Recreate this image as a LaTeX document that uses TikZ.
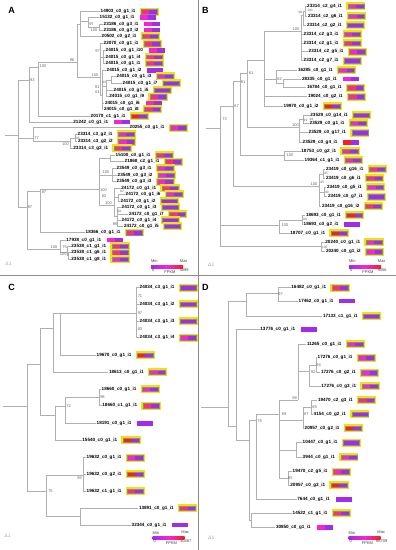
\documentclass[tikz,border=0pt]{standalone}
\usepackage{fontspec}
\setmainfont{Liberation Sans}
\usepackage{tikz}
\usetikzlibrary{positioning}
\definecolor{hpu}{HTML}{A02CEC}
\definecolor{hmg}{HTML}{F524DA}
\definecolor{hpr}{HTML}{FF2A86}
\definecolor{hrd}{HTML}{FF1C1C}
\definecolor{hye}{HTML}{F0E300}
\definecolor{treegray}{HTML}{B0B0B0}
\definecolor{framegray}{HTML}{8C8C8C}
\tikzset{
  branch/.style={
    draw = treegray,
    line width = 0.65pt
  },
  panel/.style={
    draw = framegray,
    line width = 0.8pt
  },
}
\tikzset{
  leaf/.style={
    anchor = west,
    inner sep = 0.5pt,
    font = \fontsize{4.6}{5}\selectfont\bfseries
  },
  boot/.style={
    inner sep = 0pt,
    text = black!60,
    font = \fontsize{4}{4}\selectfont
  },
  bootsm/.style={
    inner sep = 0pt,
    text = black!60,
    font = \fontsize{3.2}{3.2}\selectfont
  },
  tag/.style={
    inner sep = 0pt,
    font = \fontsize{9}{9}\selectfont\bfseries
  },
  scl/.style={
    inner sep = 0pt,
    text = black!35,
    font = \fontsize{5}{5}\selectfont
  },
}
\tikzset{
  hm/.style={
    shape = rectangle,
    inner sep = 0pt,
    minimum width = 16pt,
    minimum height = 4.6pt,
    fill = hpu,
    path picture = {\fill[#1] (path picture bounding box.south west) rectangle (path picture bounding box.north);}
  },
  yb/.style={
    draw = black!45,
    line width = 0.3pt,
    preaction = {draw = hye, line width = 3.2pt}
  },
  nb/.style={},
  legbar/.style={
    inner sep = 0pt,
    minimum width = 32pt,
    minimum height = 3.4pt,
    left color = hpu,
    right color = hrd,
    middle color = hmg
  },
  legtxt/.style={
    inner sep = 0pt,
    text = black!75,
    font = \fontsize{4}{4}\selectfont
  }
}

\begin{document}
\begin{tikzpicture}[x=1pt,y=-1pt]
    \def\gap{5pt}
    \useasboundingbox (0,0) rectangle (396,550);
    \draw[panel] (0,275) -- (396,275);
    \draw[panel] (198,0) -- (198,550);
    \node[tag] (tA) at (11.7,10) {A};
    \node[tag] (tB) at (205.3,10.7) {B};
    \node[tag] (tC) at (11.7,287.7) {C};
    \node[tag] (tD) at (205.3,287.7) {D};
    \foreach \id/\x/\y in {aS/5/135, aR/18/135, a93/29/80, a100/38/67, a96/77/62, aT/80/24, a97/88/21, a100c/99/27,
      a100b/100/77, a97c/103/57, aSub/102/95, aNA/106/86, aNB/111/80, a77/33/138, a100d/70/141, a95/75/138,
      a97b/27/207, a87/40/191, a100f/99/189, aX/110/158, aY/112/175, aZ/114/205, a82/118/197, aW/117/216,
      a100e/60/249, a75/67/252, a100h/68.5/255.5,
      bS/206/128.3, bR/220.7/128.3, b67/233/106, b81/240/81.7, b61/247.3/73.3, bA/264/60, b100/301/31.7,
      b98/303.5/15, b100s/305/11, b62/276.3/79, bQ/283/83, b10r/299/127.7, b99/303/119, b10m/284.7/155,
      b10p/319.7/186.7, b95/323/174, b99p/324/192, b10k/279.7/225, b99k/302/220, b10t/321.3/246.7,
      cS/3/406.7, cR/27/406.7, cC1/40.7/364.3, cC2/53.3/328.3, cC4/60/313.3, c100/136.7/313.3, cC3/55/415,
      c72/65/406, c98/99/397.3, c75/46.7/491, c95/83.3/475, cC5/80/516.7,
      dS/201/407.7, dR/228/407.7, dD1/246.3/301, d97/278/293.3, dD2/236.7/426.7, dD3/249.7/440, d78/256.7/420.7,
      d69/279.7/414.3, d98/298/400, d92/309.7/371.7, d94/316/365, dY/303/420, d89/311.3/407, dX/296.3/450,
      d85/288/478.3, dD5/251.3/520}{
    \coordinate (\id) at (\x,\y);}
    \draw[branch] (aS) -- (aR);
    \draw[branch] (bS) -- (bR);
    \draw[branch] (cS) -- (cR);
    \draw[branch] (dS) -- (dR);
    \foreach \p/\c in {aR/a93, aR/a77, aR/a97b, a93/a100, a100/a96, a96/aT, a96/a100b, aT/a97, a97/a100c,
      a100b/a97c, a100b/aSub, aSub/aNA, aNA/aNB, a77/a100d, a100d/a95, a97b/a87, a97b/a100e, a87/a100f,
      a100f/aX, a100f/aY, a100f/aZ, aZ/a82, aZ/aW, a100e/a75, a75/a100h,
      bR/b67, bR/b10k, bR/b10t, b67/b81, b67/b10p, b81/b61, b81/b10m, b61/bA, b61/b10r, bA/b100, bA/b62,
      b62/bQ, b100/b98, b98/b100s, b10r/b99, b10p/b95, b10p/b99p, b10k/b99k,
      cR/cC1, cR/c75, cC1/cC2, cC1/cC3, cC2/cC4, cC4/c100, cC3/c72, c72/c98, c75/c95, c75/cC5,
      dR/dD1, dR/dD2, dD1/d97, dD2/dD3, dD3/d78, dD3/dD5, d78/d69, d69/d98, d69/dY, d69/dX, d69/d85,
      d98/d92, d92/d94, dY/d89}{
    \draw[branch] (\p) |- (\c);}
    \foreach \id/\up/\x/\y/\gid/\cv/\gv/\iv/\cl/\fr in {
      aL1/aT/100/11.7/14903/0/1/1/hpr/yb, aL2/a97/99/17.3/15132/0/1/1/hmg/nb,
      aL3/a100c/103/24/23186/0/3/1/hmg/nb, aL4/a100c/103/30/23186/0/3/2/hmg/nb,
      aL5/aT/101/36/20502/0/2/1/hpr/yb, aL6/a100b/103/43.7/22070/0/1/1/hpr/yb,
      aL7/a97c/105/50.7/24015/0/1/10/hmg/nb, aL8/a97c/105/57.3/24015/0/1/4/hmg/yb,
      aL9/a97c/105/63.3/24015/0/1/1/hpr/yb, aL10/aSub/106/70.3/24015/0/1/2/hpu/nb,
      aL11/aNB/116/76/24015/0/1/3/hmg/yb, aL12/aNB/122/83.3/24015/0/1/7/hpu/yb,
      aL13/aNA/113/90/24015/0/1/5/hpu/yb, aL14/aNA/108.7/96.7/24015/0/1/9/hpr/yb,
      aL15/aSub/104.3/103.3/24015/0/1/6/hmg/nb, aL16/aSub/103.3/109.3/24015/0/1/8/hpr/yb,
      aL17/a100/90/116/20170/1/1/1/hrd/yb, aL18/a93/72.7/122/21242/0/1/1/hmg/nb,
      aL19/a77/129/127.7/20255/0/1/1/hmg/yb, aL20/a95/77/134/23314/3/2/1/hmg/yb,
      aL21/a95/77.3/141.7/23314/3/2/2/hmg/yb, aL22/a100d/72.7/148.3/23314/3/3/1/hpr/yb,
      aL23/aX/115/155/15100/0/1/1/hpr/yb, aL24/aX/124/161.7/21868/2/1/1/hpr/yb,
      aL25/aY/116/168.3/23549/0/3/1/hmg/yb, aL26/aY/117/175/23549/0/3/2/hmg/yb,
      aL27/aY/116/181.7/23549/0/3/3/hmg/yb, aL28/aZ/120.7/188.3/24172/0/1/1/hpr/yb,
      aL29/a82/125/194.3/24172/0/1/6/hmg/yb, aL30/a82/120/201/24172/0/1/2/hpu/yb,
      aL31/aW/121/207.3/24172/0/1/3/hpu/yb, aL32/aW/128.3/214.3/24172/0/1/7/hpr/yb,
      aL33/aW/121/220/24172/0/1/4/hpu/yb, aL34/aW/123.3/226/24172/0/1/5/hpu/yb,
      aL35/a87/85/232.5/18366/0/1/1/hpr/yb, aL36/a100e/65.7/240/17938/0/1/1/hmg/nb,
      aL37/a75/70.7/246/23538/1/1/1/hpr/yb, aL38/a100h/70.7/252.5/23538/1/6/1/hpr/yb,
      aL39/a100h/70.7/259/23538/1/8/1/hmg/yb,
      bL1/b100s/306.5/6/23314/2/4/1/hmg/yb, bL2/b100s/307.3/16/23314/2/6/1/hmg/yb,
      bL3/b98/306.3/25/23314/2/2/1/hpu/yb, bL4/b100/303/34.3/23314/2/3/1/hmg/yb,
      bL5/b100/303/43.3/23314/2/1/1/hpr/yb, bL6/b100/308/51.7/23314/2/5/1/hmg/yb,
      bL7/b100/303/60.7/23314/2/7/1/hpu/yb, bL8/b62/297.3/70/16285/0/1/1/hmg/yb,
      bL9/bQ/301.3/79/28335/0/1/1/hmg/nb, bL10/bQ/306.3/87.7/16784/0/1/1/hpr/yb,
      bL11/bA/307.3/96.7/19024/0/2/1/hpr/yb, bL12/bA/283/106/19970/0/1/2/hrd/yb,
      bL13/b99/309.7/115/23529/0/14/1/hpu/yb, bL14/b99/309/123.3/23529/0/1/1/hmg/yb,
      bL15/b10r/308/132.7/23529/0/17/1/hpu/yb, bL16/b10r/302/142.3/23529/0/4/1/hrd/nb,
      bL17/b10m/300.7/151/18753/0/2/1/hpr/yb, bL18/b10m/304/160/19364/1/1/1/hmg/yb,
      bL19/b95/325.3/169.3/23419/0/16/1/hpr/yb, bL20/b95/325.3/178.3/23419/0/6/1/hpr/yb,
      bL21/b99p/326.3/187.3/23419/0/5/1/hmg/yb, bL22/b99p/327.3/196.7/23419/0/7/1/hpu/yb,
      bL23/b10p/321.3/206/23419/0/16/2/hpr/yb, bL24/b99k/305.3/215/18693/0/1/1/hrd/yb,
      bL25/b99k/303/224.3/18693/0/2/1/hpu/nb, bL26/b10k/289.7/233.3/18707/0/1/1/hrd/yb,
      bL27/b10t/324.7/242.3/20240/0/1/1/hmg/yb, bL28/b10t/325.3/251.7/20240/0/1/2/hmg/yb,
      cL1/c100/139/287.7/24034/3/1/1/hpu/yb, cL2/c100/139/304.3/24034/3/1/2/hpu/yb,
      cL3/c100/139/321/24034/3/1/3/hpu/yb, cL4/c100/139/337.7/24034/3/1/4/hmg/yb,
      cL5/cC4/96/355/19670/0/1/1/hrd/yb, cL6/cC2/108.3/372.3/18613/0/1/1/hmg/yb,
      cL7/c98/101/389/18660/0/1/1/hmg/yb, cL8/c98/101.7/405.7/18660/1/1/1/hpr/yb,
      cL9/c72/96/423.3/18191/0/1/1/hpu/nb, cL10/cC3/81.7/440/15540/0/1/1/hrd/yb,
      cL11/c95/86/457.7/19632/0/1/1/hmg/yb, cL12/c95/86/474.3/19632/0/2/1/hrd/yb,
      cL13/c95/86/491/19632/1/1/1/hpr/yb, cL14/cC5/138.3/508.3/13891/0/1/1/hpr/yb,
      cL15/cC5/131/525/32344/0/1/1/hpu/nb,
      dL1/d97/290.7/287.7/16482/0/1/1/hpr/yb, dL2/d97/298/301/17462/0/1/1/hpu/nb,
      dL3/dD1/322.3/316/17133/1/1/1/hpu/yb, dL4/dD2/259.7/329.3/13776/0/1/1/hpu/nb,
      dL5/d98/306.3/344.3/11265/0/1/1/hmg/yb, dL6/d94/317/357.7/17276/0/1/1/hmg/yb,
      dL7/d94/320.3/372.7/17276/0/2/1/hmg/yb, dL8/d92/320.7/386/17276/0/3/1/hmg/yb,
      dL9/d89/317.3/400/19470/2/3/1/hpr/yb, dL10/d89/313/414.3/4154/0/2/1/hpu/yb,
      dL11/dY/304/428.3/20957/0/2/1/hrd/yb, dL12/dX/302/442.7/10447/0/1/1/hpu/yb,
      dL13/dX/302/457.3/3944/0/1/1/hmg/yb, dL14/d85/292/471.7/19470/2/5/1/hmg/yb,
      dL15/d85/289.7/485/20957/0/3/1/hrd/yb, dL16/d78/296.7/499.3/7644/0/1/1/hpu/nb,
      dL17/dD5/292/513.3/14522/1/1/1/hpr/yb, dL18/dD5/275.3/527.7/30850/0/1/1/hmg/nb}{
    \node[leaf] (\id) at (\x,\y) {\gid\_c\cv\_g\gv\_i\iv};
    \draw[branch] (\up) |- (\id.west);
    \node[hm=\cl,\fr,right=\gap of \id] (\id b) {};}
    \foreach \id/\x/\y/\v in {aB1/32.3/80.5/93, aB2/43/66.5/100, aB3/72/59.8/96, aB4/91.5/24.3/97,
      aB5/94/30.5/100, aB6/95/74.8/100, aB7/97.7/50.7/97, aB9/97/87.3/91, aB10/97.5/92.2/61,
      aB11/36.7/138.5/77, aB12/65.5/144/100, aB14/30/207/97, aB15/44/192.5/87, aB16/103.5/190/100,
      aB17/106/171.7/100, aB18/104/196.5/83, aB20/108.5/203/100, aB22/115/224.5/96, aB23/54/246.8/100,
      aB24/64.5/247.5/75, aB25/63.3/254.5/100,
      bB3/296/29.4/100, bB4/251/73.3/61, bB5/243.2/81.7/81, bB6/236.5/106/67, bB7/224.7/119.3/73,
      bB8/279.7/79/62, bB9/290/155.6/100, bB10/314/184.2/100, bB14/285/225.5/100, bB17/295.5/125.3/100,
      cB1/140/296/71, cB2/140/312.7/97, cB3/140/329.3/83, cB4/102.5/397.3/98, cB5/68.7/406/72,
      cB6/79.5/477.8/95, cB7/50.5/491/75,
      dB1/280.5/294.5/97, dB2/294.5/397.8/98, dB3/318.6/365.2/94, dB4/313/372/92, dB5/314.5/407/89,
      dB6/306.3/414.3/87, dB7/284/414.3/69, dB8/259.7/420.7/78, dB9/290.3/478.3/85}{
    \node[boot] (\id) at (\x,\y) {\v};}
    \foreach \id/\x/\y/\v in {aB8/104.1/82/99, aB13/77.8/137.9/95, aB19/122/191.5/82, aB21/119.3/211.2/99,
      bB1/310/10.8/100, bB2/300.3/12.8/98, bB11/326/173.8/95, bB12/322.3/182.7/85, bB13/326.8/192/99,
      bB15/305/219.8/99, bB16/324.8/247/100, bB18/305.5/120/99, bB19/311.5/119.5/98}{
    \node[bootsm] (\id) at (\x,\y) {\v};}
    \foreach \pn/\x/\y/\vmax in {a/167/266.7/4099, b/365/266.7/5056, c/168.5/537.8/10487, d/364.5/537.8/68709}{
    \node[legbar] (\pn G) at (\x,\y) {};
    \node[legtxt] (\pn Min) at ([xshift=3.5pt,yshift=5.2pt]\pn G.west) {Min};
    \node[legtxt] (\pn Max) at ([xshift=0.5pt,yshift=5.2pt]\pn G.east) {Max};
    \node[legtxt] (\pn Zero) at ([xshift=2.5pt,yshift=-3.8pt]\pn G.west) {0};
    \node[legtxt] (\pn Fp) at ([xshift=3pt,yshift=-5.8pt]\pn G.center) {FPKM};
    \node[legtxt] (\pn Top) at ([xshift=1pt,yshift=-3.8pt]\pn G.east) {\vmax};}
    \node[scl] (aScl) at (8.5,263.5) {Δ1};
    \node[scl] (bScl) at (211.3,264.3) {Δ1};
    \node[scl] (cScl) at (7.5,536) {Δ1};
    \node[scl] (dScl) at (211.3,537.7) {Δ1};
\end{tikzpicture}
\end{document}
